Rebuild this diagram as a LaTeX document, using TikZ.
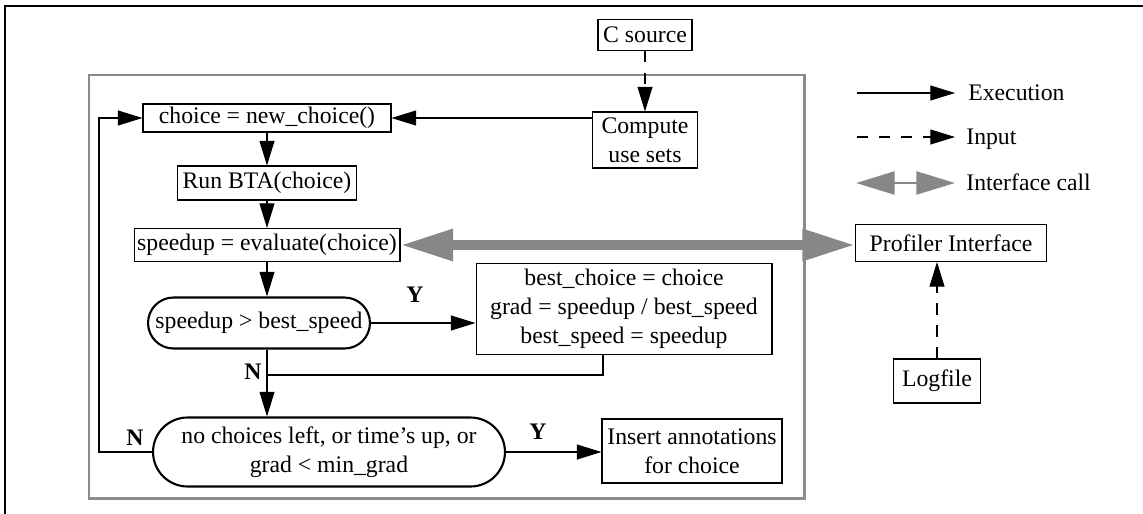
\documentclass[tikz,border=0pt]{standalone}
\usepackage{fontspec}
\setmainfont{Liberation Serif}
\usetikzlibrary{arrows.meta,calc,shapes.misc}

\begin{document}
\begin{tikzpicture}[x=0.02cm,y=-0.02cm,
    every node/.style={font=\fontsize{13.5}{16.4}\selectfont},
    box/.style={draw,line width=0.6pt,align=center,inner sep=0pt},
    test/.style={draw,rounded rectangle,line width=1.2pt,align=center,inner sep=0pt},
    lbl/.style={inner sep=0pt,font=\fontsize{13.5}{16.4}\selectfont\bfseries},
    exec/.style={-{Triangle[length=14pt,width=8.5pt]},line width=0.6pt},
    input/.style={exec,dash pattern=on 6.5pt off 6pt},
    call/.style={{Triangle[length=30pt,width=17pt]}-{Triangle[length=30pt,width=17pt]},draw=black!47,line width=5.5pt},
    smallcall/.style={{Triangle[length=22pt,width=13pt]}-{Triangle[length=22pt,width=13pt]},draw=black!47,line width=1.7pt}]
    \useasboundingbox (0,0) rectangle (1143,514);

    % frames
    \draw[line width=0.9pt] (5,514) |- (1143,6);
    \draw[line width=1.7pt,black!45] (89,75) rectangle (804,498);

    % nodes of the search loop
    \node[box,minimum width=1.88cm,minimum height=0.62cm] (src) at (645,35) {C source};
    \node[box,minimum width=2.10cm,minimum height=1.12cm] (use) at (645,140) {Compute\\use sets};
    \node[box,minimum width=4.96cm,minimum height=0.56cm] (choice) at (267,118) {choice = new\_choice()};
    \node[box,minimum width=3.58cm,minimum height=0.68cm] (bta) at (267,183) {Run BTA(choice)};
    \node[box,minimum width=5.32cm,minimum height=0.66cm] (eval) at (267,245) {speedup = evaluate(choice)};
    \node[test,minimum width=4.44cm,minimum height=1.02cm] (cond) at (259,323) {speedup > best\_speed};
    \node[box,minimum width=5.92cm,minimum height=1.82cm] (best) at (624,309)
        {best\_choice = choice\\grad = speedup / best\_speed\\best\_speed = speedup};
    \node[test,minimum width=7.04cm,minimum height=1.38cm] (stop) at (329,452)
        {no choices left, or time’s up, or\\grad < min\_grad};
    \node[box,minimum width=3.60cm,minimum height=1.28cm] (insert) at (692,451) {Insert annotations\\for choice};
    \node[box,minimum width=3.82cm,minimum height=0.74cm] (prof) at (951,243) {Profiler Interface};
    \node[box,minimum width=1.74cm,minimum height=0.88cm] (log) at (937,381) {Logfile};

    % branch labels
    \node[lbl] (y1) at (415,295) {Y};
    \node[lbl] (n1) at (253,372) {N};
    \node[lbl] (y2) at (538,432) {Y};
    \node[lbl] (n2) at (135,438) {N};

    % connectors
    \draw[input] (src) -- (use);
    \draw[exec] (use.west |- choice.east) -- (choice.east);
    \draw[exec] (choice) -- (bta);
    \draw[exec] (bta) -- (eval);
    \draw[exec] (eval.south) -- (eval.south |- cond.north);
    \draw[exec] (cond.east) -- (cond.east -| best.west);
    \coordinate (join) at (267,375);
    \draw[line width=1.2pt] ($(best.south)+(-21,0)$) |- (join);
    \draw[exec] (eval.south |- cond.south) -- (eval.south |- stop.north);
    \draw[exec] (stop.east) -- (stop.east -| insert.west);
    \draw[exec] (stop.west) -- ++(-53,0) |- (choice.west);
    \draw[call] (eval.east) -- (eval.east -| prof.west);
    \draw[input] (log.north) -- (log.north |- prof.south);

    % legend
    \coordinate (e0) at (857,93);  \coordinate (e1) at (955,93);
    \coordinate (i0) at (857,137); \coordinate (i1) at (955,137);
    \coordinate (c0) at (856,183); \coordinate (c1) at (955,183);
    \draw[exec] (e0) -- (e1);
    \draw[input] (i0) -- (i1);
    \draw[smallcall] (c0) -- (c1);
    \node[anchor=base west,inner sep=0pt] (etxt) at (968,100) {Execution};
    \node[anchor=base west,inner sep=0pt] (itxt) at (966,144) {Input};
    \node[anchor=base west,inner sep=0pt] (ctxt) at (966,190) {Interface call};
\end{tikzpicture}
\end{document}
